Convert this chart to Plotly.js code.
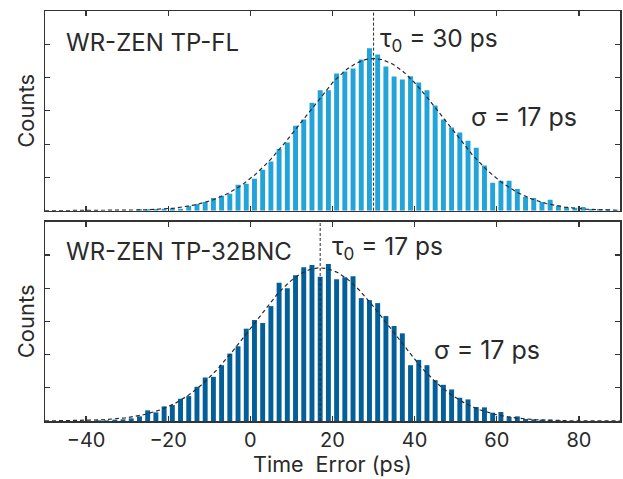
<!DOCTYPE html>
<html><head><meta charset="utf-8">
<script src="https://cdn.plot.ly/plotly-3.0.1.min.js"></script>
<style>html,body{margin:0;padding:0;background:#fff}#chart{width:623px;height:479px}</style>
</head><body><div id="chart"></div>
<script>
// Histogram bin centres (ps) and counts
const binsTop = [-27,-25,-23,-21,-19,-17,-15,-13,-11,-9,-7,-5,-3,-1,
  1,3,5,7,9,11,13,15,17,19,21,23,25,27,29,31,33,35,37,39,41,43,45,47,49,
  51,53,55,57,59,61,63,65,67,69,71,73,75,77,79,81,83,85,87,89];
const countsTop = [5,4,5,6,7,6,14,20,26,38,45,51,78,81,
  96,123,148,185,205,255,274,324,362,362,412,418,427,454,488,469,433,403,394,404,385,362,316,274,250,
  235,210,189,136,84,90,90,65,41,38,26,33,15,10,9,11,5,5,5,3];

const binsBottom = [-37,-35,-33,-31,-29,-27,-25,-23,-21,-19,-17,-15,-13,-11,-9,-7,-5,-3,-1,
  1,3,5,7,9,11,13,15,17,19,21,23,25,27,29,31,33,35,37,39,
  41,43,45,47,49,51,53,55,57,59,61,63,65,67,69,71,73,75];
const countsBottom = [2,2,4,5,8,14,32,26,44,48,67,75,103,131,133,168,203,225,278,
  304,295,346,416,400,439,463,470,434,473,427,433,436,370,364,355,316,286,264,168,
  184,168,123,109,95,70,65,42,41,25,27,12,14,6,5,4,4,2];

// Gaussian fit parameters shown on the chart (amplitude)
const fitTopTau0 = 30, fitTopSigma = 17, fitTopAmp = 457;
const fitBottomTau0 = 17, fitBottomSigma = 17, fitBottomAmp = 461;

const labelTop = 'WR-ZEN TP-FL';
const labelBottom = 'WR-ZEN TP-32BNC';
const xTickVals = [-40,-20,0,20,40,60,80];
const xTickText = ['\u221240','\u221220','0','20','40','60','80'];

// Fit curve evaluation grid
const fitX = [];
for (let t = -50; t <= 90; t += 0.5) fitX.push(t);
const gauss = (amp, mu, s) => fitX.map(t => amp * Math.exp(-0.5 * Math.pow((t - mu) / s, 2)));

const colTop = '#22a3da', colBottom = '#035f99', ink = '#2a2a2a';
const fam = 'Inter, "Open Sans", sans-serif';

const traces = [
  {type:'bar', x:binsTop, y:countsTop, xaxis:'x', yaxis:'y', marker:{color:colTop}, width:1.2},
  {type:'scatter', mode:'lines', x:fitX, y:gauss(fitTopAmp, fitTopTau0, fitTopSigma), xaxis:'x', yaxis:'y',
   line:{color:ink, width:1.2, dash:'4px,3px'}},
  {type:'bar', x:binsBottom, y:countsBottom, xaxis:'x2', yaxis:'y2', marker:{color:colBottom}, width:1.2},
  {type:'scatter', mode:'lines', x:fitX, y:gauss(fitBottomAmp, fitBottomTau0, fitBottomSigma), xaxis:'x2', yaxis:'y2',
   line:{color:ink, width:1.2, dash:'4px,3px'}}
];

const axisCommon = {showline:true, linecolor:'#333', linewidth:1.5, mirror:'ticks', ticks:'inside',
  ticklen:5, tickwidth:1.2, tickcolor:'#333', zeroline:false, showgrid:false};

const labFont = {family:fam, size:24, color:ink};
const annFont = {family:fam, size:24.5, color:ink};
const sigFont = {family:fam, size:25, color:ink};
const layout = {
  width:623, height:479,
  margin:{l:45, r:3, t:11, b:58},
  paper_bgcolor:'#fff', plot_bgcolor:'#fff',
  font:{family:fam, color:ink, size:20},
  showlegend:false,
  xaxis:Object.assign({}, axisCommon, {range:[-50,90], tickvals:xTickVals, showticklabels:false, anchor:'y'}),
  yaxis:Object.assign({}, axisCommon, {domain:[0.513,1], range:[0,600], dtick:100, showticklabels:false,
    title:{text:'Counts', standoff:3, font:{size:22}}}),
  xaxis2:Object.assign({}, axisCommon, {range:[-50,90], tickvals:xTickVals, ticktext:xTickText, anchor:'y2',
    tickfont:{size:20}, title:{text:'Time  Error (ps)', standoff:6, font:{size:21.5}}}),
  yaxis2:Object.assign({}, axisCommon, {domain:[0,0.486], range:[0,600], dtick:100, showticklabels:false,
    title:{text:'Counts', standoff:3, font:{size:22}}}),
  shapes:[
    {type:'line', xref:'x', yref:'y domain', x0:fitTopTau0, x1:fitTopTau0, y0:0, y1:1, line:{color:ink, width:1, dash:'3px,2px'}},
    {type:'line', xref:'x2', yref:'y2 domain', x0:fitBottomTau0, x1:fitBottomTau0, y0:0, y1:1, line:{color:ink, width:1, dash:'3px,2px'}}
  ],
  annotations:[
    {xref:'x', yref:'y', x:-45.4, y:506, xanchor:'left', yanchor:'middle', text:labelTop, showarrow:false, font:labFont},
    {xref:'x', yref:'y', x:31, y:515, xanchor:'left', yanchor:'middle', text:'\u03c4<sub>0</sub> = ' + fitTopTau0 + ' ps', showarrow:false, font:annFont},
    {xref:'x', yref:'y', x:53.3, y:280, xanchor:'left', yanchor:'middle', text:'\u03c3 = ' + fitTopSigma + ' ps', showarrow:false, font:sigFont},
    {xref:'x2', yref:'y2', x:-45.4, y:509, xanchor:'left', yanchor:'middle', text:labelBottom, showarrow:false, font:labFont},
    {xref:'x2', yref:'y2', x:19.4, y:521, xanchor:'left', yanchor:'middle', text:'\u03c4<sub>0</sub> = ' + fitBottomTau0 + ' ps', showarrow:false, font:annFont},
    {xref:'x2', yref:'y2', x:44.3, y:213, xanchor:'left', yanchor:'middle', text:'\u03c3 = ' + fitBottomSigma + ' ps', showarrow:false, font:sigFont}
  ]
};

Plotly.newPlot('chart', traces, layout, {displayModeBar:false, staticPlot:true});
</script>
</body></html>
